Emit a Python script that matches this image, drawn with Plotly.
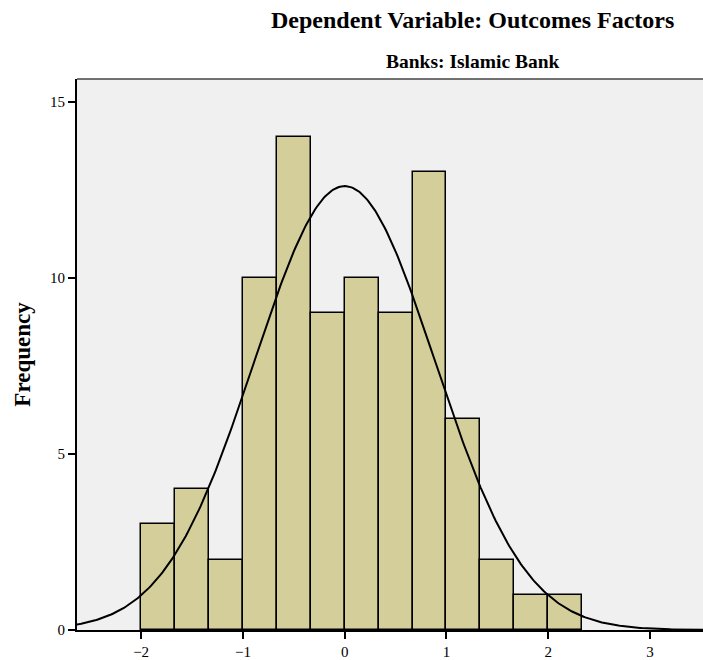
import numpy as np
import plotly.graph_objects as go

# Histogram data (bin edges start at -2, width 1/3)
bin_start = -2.0
bin_width = 1.0 / 3.0
counts = [3, 4, 2, 10, 14, 9, 10, 9, 13, 6, 2, 1, 1]

# Normal curve fit parameters
n_total = sum(counts)
fit_mean = 0.0
fit_sd = 0.886

x_ticks = [-2, -1, 0, 1, 2, 3]
y_ticks = [0, 5, 10, 15]

title_text = "Dependent Variable: Outcomes Factors"
subtitle_text = "Banks: Islamic Bank"
y_title = "Frequency"

centers = [bin_start + bin_width * (i + 0.5) for i in range(len(counts))]

xc = np.linspace(-2.8, 3.7, 400)
yc = n_total * bin_width / (fit_sd * np.sqrt(2 * np.pi)) * np.exp(-0.5 * ((xc - fit_mean) / fit_sd) ** 2)

fig = go.Figure()
fig.add_trace(go.Bar(
    x=centers, y=counts, width=bin_width,
    marker=dict(color="#D3CE9A", line=dict(color="black", width=1.5)),
    hoverinfo="skip",
))
fig.add_trace(go.Scatter(
    x=xc, y=yc, mode="lines",
    line=dict(color="black", width=2),
    hoverinfo="skip",
))

serif = "Liberation Serif, Times New Roman, serif"
fig.update_layout(
    width=703, height=660,
    margin=dict(l=77, r=0, t=79, b=27),
    paper_bgcolor="white",
    plot_bgcolor="#F0F0F0",
    showlegend=False,
    bargap=0,
    font=dict(family=serif, color="black", size=15),
    xaxis=dict(
        range=[-2.63, 3.52], tickvals=x_ticks, ticks="outside", ticklen=7,
        tickwidth=2, tickcolor="black", showgrid=False, zeroline=False,
        showline=True, linecolor="black", linewidth=2,
        tickfont=dict(family=serif, size=15),
    ),
    yaxis=dict(
        range=[0, 15.65], tickvals=y_ticks, ticks="outside", ticklen=7,
        tickwidth=2, tickcolor="black", showgrid=False, zeroline=False,
        showline=True, linecolor="black", linewidth=2,
        tickfont=dict(family=serif, size=15),
        title=dict(text="<b>" + y_title + "</b>", font=dict(family=serif, size=23), standoff=13),
    ),
    annotations=[
        dict(text="<b>" + title_text + "</b>", xref="paper", yref="paper",
             x=0.631, y=1.0, yshift=59, showarrow=False,
             font=dict(family=serif, size=24), xanchor="center", yanchor="middle"),
        dict(text="<b>" + subtitle_text + "</b>", xref="paper", yref="paper",
             x=0.633, y=1.0, yshift=18, showarrow=False,
             font=dict(family=serif, size=19.5), xanchor="center", yanchor="middle"),
    ],
    shapes=[
        dict(type="line", xref="paper", yref="paper", x0=0, x1=1, y0=1, y1=1,
             line=dict(color="#444444", width=1.5)),
    ],
)

fig.write_html(
    "out.html",
    config={"displayModeBar": False},
    post_script="document.body.style.margin='0';document.body.style.overflow='hidden';",
)
